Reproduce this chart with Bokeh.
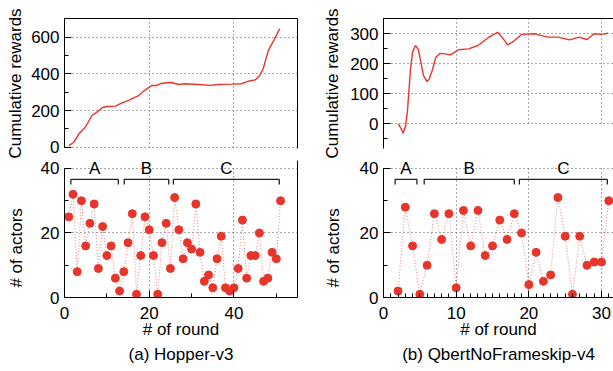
from bokeh.plotting import figure
from bokeh.models import (LinearAxis, SingleIntervalTicker, FixedTicker, Range1d, Title,
                          ColumnDataSource, LabelSet, Grid)
from bokeh.layouts import column, row
from bokeh.embed import file_html
from bokeh.resources import INLINE
from bokeh.core.properties import value

FONT = "Liberation Sans"
FS = "17px"
RED = "#e8352b"
DOT_RED = "#ef6a62"
GRID = "#555555"

# ---------------- data: (a) Hopper-v3 ----------------
hop_curve_round = [1.0, 2.2, 3.4, 4.9, 6.5, 8.0, 8.9, 10.0, 12.0, 13.6, 15.1, 17.5, 19.1,
                   20.6, 21.8, 23.0, 25.3, 26.9, 28.5, 31.6, 34.4, 36.3, 39.5, 41.8, 43.4,
                   45.0, 46.1, 46.9, 48.1, 49.6, 50.8]
hop_curve_reward = [9, 27, 73, 109, 173, 197, 215, 222, 224, 242, 255, 282, 313,
                    337, 337, 349, 353, 342, 346, 342, 337, 342, 344, 346, 360,
                    367, 391, 428, 527, 591, 646]
hop_rounds = list(range(1, 52))
hop_actors = [25, 32, 8, 30, 16, 23, 29, 9, 22, 13,
              16, 6, 2, 8, 17, 26, 1, 13, 25, 21,
              13, 1, 17, 23, 9, 31, 21, 12, 17, 15,
              29, 14, 5, 7, 3, 12, 19, 3, 2, 3,
              9, 24, 6, 13, 13, 20, 5, 6, 14, 12, 30]
hop_phase_label = ["A", "B", "C"]
hop_phase_start = [1.5, 14.1, 25.7]
hop_phase_end = [12.7, 24.6, 50.7]

# ---------------- data: (b) QbertNoFrameskip-v4 ----------------
qb_curve_round = [2.05, 2.36, 2.7, 3.05, 3.3, 3.5, 3.7, 4.0, 4.4, 4.8, 5.1, 5.5, 6.0, 6.3,
                  6.7, 7.2, 7.8, 8.5, 9.2, 9.8, 10.3, 11.7, 13.0, 14.4, 15.7, 16.3, 17.1,
                  17.9, 19.0, 20.8, 22.6, 24.0, 25.6, 26.9, 28.0, 29.0, 29.9, 30.9]
qb_curve_reward = [0, -13, -31, -6, 44, 111, 178, 239, 261, 247, 211, 161, 141, 150,
                   178, 222, 235, 233, 230, 239, 247, 250, 261, 287, 305, 289, 263,
                   275, 298, 300, 289, 289, 280, 289, 281, 300, 298, 302]
qb_rounds = list(range(2, 32))
qb_actors = [2, 28, 16, 1, 10, 26, 18, 26, 3, 27,
             16, 27, 13, 16, 24, 18, 26, 20, 4, 14,
             5, 7, 31, 19, 1, 19, 10, 11, 11, 30]
qb_phase_label = ["A", "B", "C"]
qb_phase_start = [1.6, 5.6, 18.7]
qb_phase_end = [4.6, 18.0, 30.8]

BRACKET_TOP = 36.6
BRACKET_LOW = 35.0
LETTER_Y = 40
ACTORS_MAX = 40
HAS_CROSS = "cross_bounds" in Grid.properties()


def style_axis(ax):
    ax.axis_label_text_font = FONT
    ax.axis_label_text_font_size = FS
    ax.axis_label_text_font_style = "normal"
    ax.axis_label_text_color = "black"
    ax.major_label_text_font = FONT
    ax.major_label_text_font_size = FS
    ax.major_label_text_color = "black"
    ax.axis_line_color = "black"
    ax.axis_line_width = 1
    ax.major_tick_line_color = "black"
    ax.minor_tick_line_color = "black"
    ax.major_tick_in = 7
    ax.major_tick_out = 0
    ax.minor_tick_in = 4
    ax.minor_tick_out = 0


def border_axis(p, side):
    ax = LinearAxis(ticker=FixedTicker(ticks=[]), major_label_text_font_size="0px",
                    major_tick_line_color=None, minor_tick_line_color=None,
                    axis_line_color="black", major_label_standoff=0,
                    major_tick_in=0, major_tick_out=0, minor_tick_in=0, minor_tick_out=0)
    p.add_layout(ax, side)


def make_fig(w, h, xr, yr, mb, show_x):
    p = figure(width=w, height=h, x_range=Range1d(*xr), y_range=Range1d(*yr),
               output_backend="svg", toolbar_location=None, title_location=None,
               x_axis_location="below" if show_x else None,
               min_border_left=mb[0], min_border_right=mb[1],
               min_border_top=mb[2], min_border_bottom=mb[3])
    p.outline_line_color = None
    p.background_fill_color = "white"
    p.border_fill_color = "white"
    for g in (p.xgrid[0], p.ygrid[0]):
        g.grid_line_color = GRID
        g.grid_line_dash = "1 3"
        g.grid_line_width = 1
    return p


def top_plot(w, h, xr, yr, mb, xint, yint, ybounds, curve_x, curve_y, label_standoff):
    p = make_fig(w, h, xr, yr, mb, False)
    p.xgrid[0].ticker = SingleIntervalTicker(interval=xint)
    if HAS_CROSS:
        p.xgrid[0].cross_bounds = (0, yr[1])
    yt = SingleIntervalTicker(interval=yint, num_minor_ticks=2)
    p.yaxis.ticker = yt
    p.ygrid[0].ticker = yt
    style_axis(p.yaxis[0])
    p.yaxis.axis_label = "Cumulative rewards"
    p.yaxis.axis_label_standoff = label_standoff
    p.yaxis.major_label_standoff = 5
    p.yaxis.bounds = ybounds
    border_axis(p, "above")
    p.line(curve_x, curve_y, line_color=RED, line_width=1.4)
    return p


def bottom_plot(w, h, xr, ytop, mb, xint, xminor, rounds, actors, labels, starts, ends,
                label_standoff, caption):
    p = make_fig(w, h, xr, (0, ytop), mb, True)
    xt = SingleIntervalTicker(interval=xint, num_minor_ticks=xminor)
    p.xaxis.ticker = xt
    p.xgrid[0].ticker = xt
    if HAS_CROSS:
        p.xgrid[0].cross_bounds = (0, ACTORS_MAX)
    yt = SingleIntervalTicker(interval=20, num_minor_ticks=2)
    p.yaxis.ticker = yt
    p.ygrid[0].ticker = yt
    style_axis(p.xaxis[0])
    style_axis(p.yaxis[0])
    p.xaxis.axis_label = "# of round"
    p.xaxis.major_label_standoff = 9
    p.xaxis.axis_label_standoff = -2
    p.yaxis.axis_label = "# of actors" + "\u00a0" * 8
    p.yaxis.axis_label_standoff = label_standoff
    p.yaxis.major_label_standoff = 5
    p.yaxis.bounds = (0, ACTORS_MAX)

    src = ColumnDataSource(dict(x=rounds, y=actors))
    p.line("x", "y", source=src, line_color=DOT_RED, line_width=1, line_dash="1 2",
           line_alpha=0.85)
    p.scatter("x", "y", source=src, size=8, fill_color=RED, line_color=RED)

    xs = [[s, s, e, e] for s, e in zip(starts, ends)]
    ys = [[BRACKET_LOW, BRACKET_TOP, BRACKET_TOP, BRACKET_LOW] for _ in starts]
    p.multi_line(xs, ys, line_color="#222222", line_width=1.3)
    mids = [(s + e) / 2 for s, e in zip(starts, ends)]
    lsrc = ColumnDataSource(dict(x=mids, y=[LETTER_Y] * len(mids), text=labels))
    p.add_layout(LabelSet(x="x", y="y", text="text", source=lsrc, text_align="center",
                          text_baseline="middle", text_font=value(FONT),
                          text_font_size=value(FS), text_color="black"))

    cap = Title(text=caption, align="center", text_font=FONT, text_font_size=FS,
                text_font_style="normal", text_color="black", standoff=2)
    p.add_layout(cap, "below")
    return p


# left column geometry (bokeh's page template has no body margin)
L_W = 320
L_MB_TOP = (64, 23, 18, 10)
L_MB_BOT = (64, 23, 2, 74)
# right column geometry
R_W = 293
R_MB_TOP = (61, 0, 18, 10)
R_MB_BOT = (61, 0, 2, 74)
TOP_H = 158
BOT_H = 213
BOT_YTOP = 42.48  # frame extends a little above 40 so letters are not clipped

tl = top_plot(L_W, TOP_H, (0, 55), (-7, 702), L_MB_TOP, 20, 200, (0, 702),
              hop_curve_round, hop_curve_reward, 3)
border_axis(tl, "right")
bl = bottom_plot(L_W, BOT_H, (0, 55), BOT_YTOP, L_MB_BOT, 20, 2, hop_rounds, hop_actors,
                 hop_phase_label, hop_phase_start, hop_phase_end, 12, "(a) Hopper-v3")
border_axis(bl, "right")

tr = top_plot(R_W, TOP_H, (0, 31.65), (-82, 351), R_MB_TOP, 10, 100, "auto",
              qb_curve_round, qb_curve_reward, 5)
br = bottom_plot(R_W, BOT_H, (0, 31.65), BOT_YTOP, R_MB_BOT, 10, 10, qb_rounds, qb_actors,
                 qb_phase_label, qb_phase_start, qb_phase_end, 14,
                 "(b) QbertNoFrameskip-v4")

layout = column(row(tl, tr), row(bl, br))

html = file_html(layout, INLINE)
with open("out.html", "w") as f:
    f.write(html)
